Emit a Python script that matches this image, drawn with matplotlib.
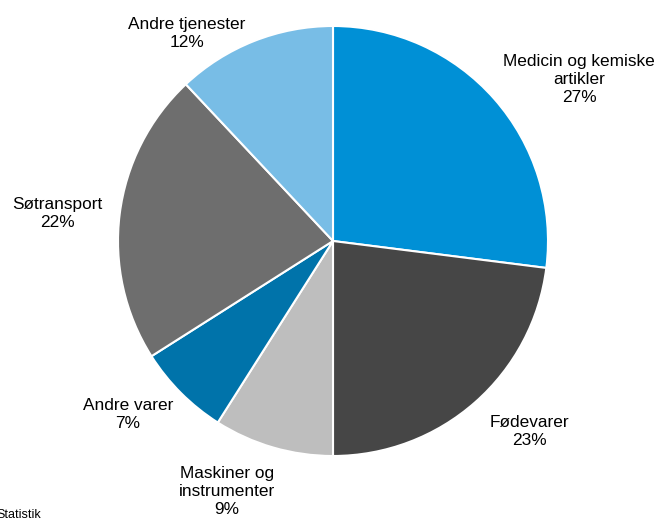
import matplotlib
matplotlib.use("Agg")
from matplotlib import pyplot as plt

plt.rcParams['font.family'] = ['Liberation Sans', 'DejaVu Sans']

# data
categories = ["Medicin og kemiske\nartikler", "Fødevarer", "Maskiner og\ninstrumenter",
              "Andre varer", "Søtransport", "Andre tjenester"]
shares = [27, 23, 9, 7, 22, 12]
colors = ["#0090d6", "#464646", "#bebebe", "#0073aa", "#6e6e6e", "#78bde6"]

# label centres, in pie radius units
label_pos = [(1.144, 0.749), (0.912, -0.888), (-0.493, -1.167),
             (-0.953, -0.809), (-1.284, 0.130), (-0.679, 0.967)]

fig = plt.figure(figsize=(6.62, 5.18), dpi=100)
R = 215
cx, cy = 333, 518 - 241
ax = fig.add_axes([(cx - R) / 662, (cy - R) / 518, 2 * R / 662, 2 * R / 518])

wedges, _ = ax.pie(shares, colors=colors, startangle=90, counterclock=False,
                   wedgeprops=dict(edgecolor="white", linewidth=1.5))
for cat, s, (x, y) in zip(categories, shares, label_pos):
    ax.text(x, y, f"{cat}\n{s}%", ha="center", va="center", fontsize=12.4,
            linespacing=1.25, clip_on=False)
ax.set_xlim(-1, 1)
ax.set_ylim(-1, 1)
ax.set_aspect("equal")

fig.text(-0.006, 1 - 509 / 518, "Statistik", fontsize=9, ha="left", va="top")

fig.savefig("out.png", dpi=100)
